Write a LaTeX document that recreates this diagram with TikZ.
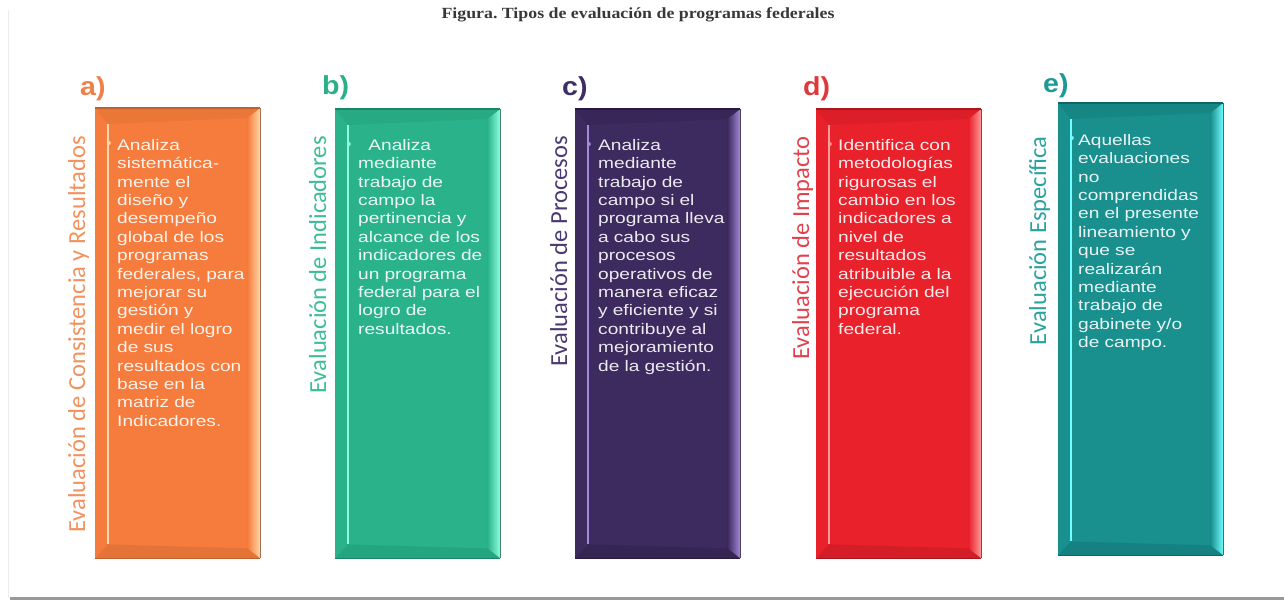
\documentclass[tikz,border=0pt]{standalone}
\usepackage{fontspec}
\setmainfont{Liberation Sans}
\newfontfamily\bodyfont[FakeStretch=1.25]{Liberation Sans}
\newfontfamily\labfont[FakeStretch=1.1]{Liberation Sans}
\newfontfamily\vfont{Carlito}
\newfontfamily\titlefont[FakeStretch=1.15]{Liberation Serif}
\usetikzlibrary{calc}
\definecolor{mainA}{HTML}{F57C3C}\definecolor{lightA}{HTML}{FFD9A8}\definecolor{darkA}{HTML}{C0602C}\definecolor{labA}{HTML}{F0804A}\definecolor{vA}{HTML}{F2925E}
\definecolor{mainB}{HTML}{2AB38A}\definecolor{lightB}{HTML}{8FFFE0}\definecolor{darkB}{HTML}{1B8666}\definecolor{labB}{HTML}{2BAF88}\definecolor{vB}{HTML}{3CBE98}
\definecolor{mainC}{HTML}{3D2A5E}\definecolor{lightC}{HTML}{A58AD8}\definecolor{darkC}{HTML}{271A40}\definecolor{labC}{HTML}{3D2E63}\definecolor{vC}{HTML}{4A3A72}
\definecolor{mainD}{HTML}{E8212B}\definecolor{lightD}{HTML}{FF9C9C}\definecolor{darkD}{HTML}{A8161E}\definecolor{labD}{HTML}{E0383A}\definecolor{vD}{HTML}{E2424E}
\definecolor{mainE}{HTML}{198F8E}\definecolor{lightE}{HTML}{70FFFF}\definecolor{darkE}{HTML}{0E6565}\definecolor{labE}{HTML}{1E9A96}\definecolor{vE}{HTML}{2AA3A0}
\newcommand\bevelbox[4]{% #1 node name, #2 main, #3 light, #4 dark
  \fill[#4, fill opacity=0.2] (#1.north west) -- (#1.north east) -- ($(#1.north east)+(-13,10)$) -- ($(#1.north west)+(13,16)$) -- cycle;
  \shade[left color=#2, right color=#3] ($(#1.north east)+(-13,10)$) -- (#1.north east) -- (#1.south east) -- ($(#1.south east)+(-13,-10)$) -- cycle;
  \fill[#4, fill opacity=0.3] (#1.south west) -- (#1.south east) -- ($(#1.south east)+(-13,-10)$) -- ($(#1.south west)+(13,-14)$) -- cycle;
  \draw[#3, line width=2.4pt] ($(#1.north west)+(13,16)$) -- ($(#1.south west)+(13,-14)$);
  \draw[#4, line width=1.6pt] (#1.north west) -- (#1.north east);
  \draw[#4, line width=1.6pt] (#1.south west) -- (#1.south east);
  \draw[#4!60!gray, line width=1.2pt] (#1.north east) -- (#1.south east);
  \fill[#3] ($(#1.north west)+(13.8,35)$) circle (2pt);
}
\tikzset{
  boxst/.style={rectangle, inner sep=0, minimum width=165pt, anchor=north west},
  bodyst/.style={anchor=north west, inner sep=0, text width=150pt, align=left, text=white, text opacity=0.9,
     font=\bodyfont\fontsize{15.3}{18.4}\selectfont},
  labst/.style={anchor=base west, inner sep=0, font=\labfont\bfseries\fontsize{26}{30}\selectfont},
  vst/.style={anchor=base east, inner sep=0, rotate=90, font=\vfont\fontsize{24.5}{28}\selectfont},
}
\newcommand\fs{\rule{0pt}{12pt}}
\begin{document}
\begin{tikzpicture}[x=1pt,y=-1pt]
\useasboundingbox (0,0) rectangle (1284,600);
\fill[white] (0,0) rectangle (1284,600);
\draw[black!7, line width=1pt] (8,10) -- (8,598);
\draw[black!40, line width=3pt] (10,598.5) -- (1284,598.5);
\node[anchor=base, inner sep=0, text=black!78, font=\titlefont\bfseries\fontsize{15.5}{18}\selectfont] (title) at (638,18) {Figura.\ Tipos de evaluación de programas federales};

% a
\node[boxst, fill=mainA, minimum height=450pt] (ba) at (95,108) {};
\bevelbox{ba}{mainA}{lightA}{darkA}
\node[labst, text=labA] (la) at (80,95) {a)};
\node[vst, text=vA] (va) at (85,136) {Evaluación de Consistencia y Resultados};
\node[bodyst] (ta) at ($(ba.north west)+(22,30)$) {\fs Analiza\\sistemática-\\mente el\\diseño y\\desempeño\\global de los\\programas\\federales, para\\mejorar su\\gestión y\\medir el logro\\de sus\\resultados con\\base en la\\matriz de\\Indicadores.};

% b
\node[boxst, fill=mainB, minimum height=449pt] (bb) at (335,109) {};
\bevelbox{bb}{mainB}{lightB}{darkB}
\node[labst, text=labB] (lb) at (322,94) {b)};
\node[vst, text=vB] (vb) at (326,136) {Evaluación de Indicadores};
\node[bodyst] (tb) at ($(bb.north west)+(23,29)$) {\fs\ \ Analiza\\mediante\\trabajo de\\campo la\\pertinencia y\\alcance de los\\indicadores de\\un programa\\federal para el\\logro de\\resultados.};

% c
\node[boxst, fill=mainC, minimum height=449pt] (bc) at (575,109) {};
\bevelbox{bc}{mainC}{lightC}{darkC}
\node[labst, text=labC] (lc) at (562,95) {c)};
\node[vst, text=vC] (vc) at (567,136) {Evaluación de Procesos};
\node[bodyst] (tc) at ($(bc.north west)+(23,29)$) {\fs Analiza\\mediante\\trabajo de\\campo si el\\programa lleva\\a cabo sus\\procesos\\operativos de\\manera eficaz\\y eficiente y si\\contribuye al\\mejoramiento\\de la gestión.};

% d
\node[boxst, fill=mainD, minimum height=449pt] (bd) at (816,109) {};
\bevelbox{bd}{mainD}{lightD}{darkD}
\node[labst, text=labD] (ld) at (803,95) {d)};
\node[vst, text=vD] (vd) at (809,136) {Evaluación de Impacto};
\node[bodyst] (td) at ($(bd.north west)+(22,29)$) {\fs Identifica con\\metodologías\\rigurosas el\\cambio en los\\indicadores a\\nivel de\\resultados\\atribuible a la\\ejecución del\\programa\\federal.};

% e
\node[boxst, fill=mainE, minimum height=452pt] (be) at (1058,103) {};
\bevelbox{be}{mainE}{lightE}{darkE}
\node[labst, text=labE] (le) at (1043,92) {e)};
\node[vst, text=vE] (ve) at (1046,136) {Evaluación Específica};
\node[bodyst] (te) at ($(be.north west)+(20,30)$) {\fs Aquellas\\evaluaciones\\no\\comprendidas\\en el presente\\lineamiento y\\que se\\realizarán\\mediante\\trabajo de\\gabinete y/o\\de campo.};
\end{tikzpicture}
\end{document}
